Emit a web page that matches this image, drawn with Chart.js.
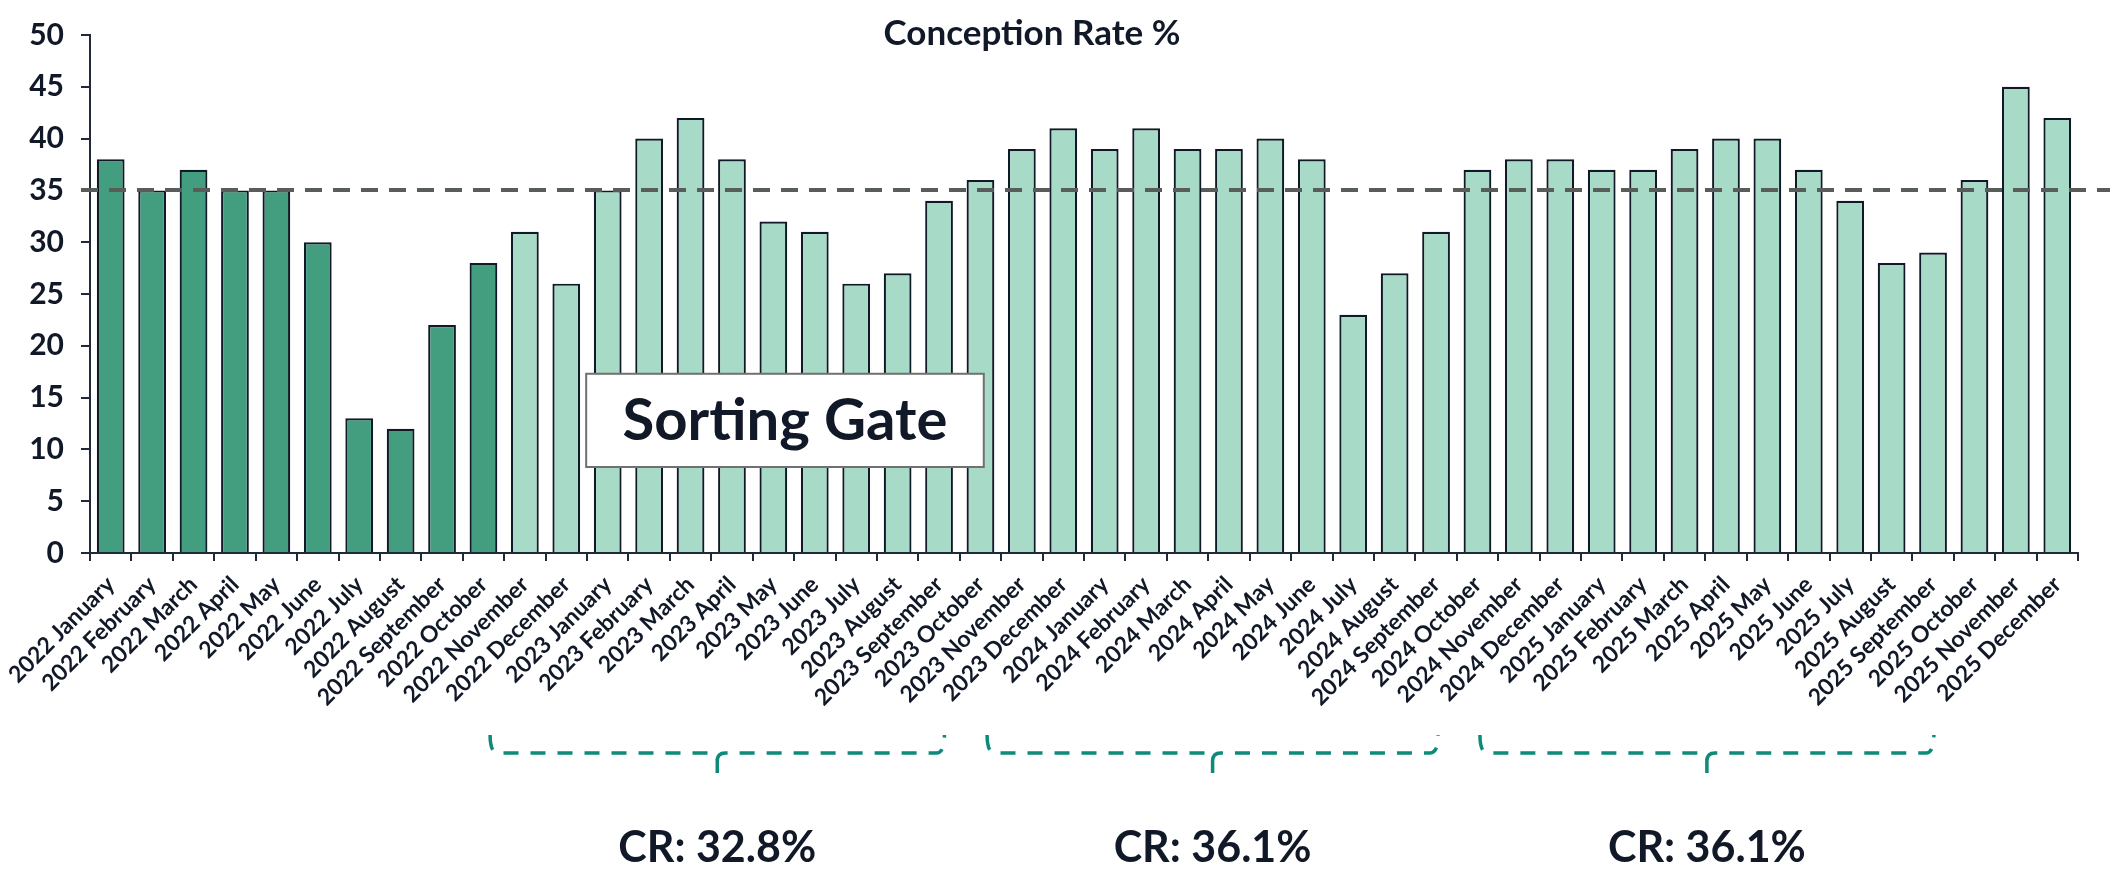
<!DOCTYPE html>
<html>
<head>
<meta charset="utf-8">
<script src="https://cdn.jsdelivr.net/npm/chart.js@4.4.1/dist/chart.umd.min.js"></script>
<style>
  html, body { margin: 0; padding: 0; background: #ffffff; }
  #wrap { width: 2112px; height: 873px; position: relative; }
</style>
</head>
<body>
<div id="wrap"><canvas id="c" width="2112" height="873"></canvas></div>
<script>
// ---------------- DATA ----------------
const categories = [
  '2022 January','2022 February','2022 March','2022 April','2022 May','2022 June',
  '2022 July','2022 August','2022 September','2022 October','2022 November','2022 December',
  '2023 January','2023 February','2023 March','2023 April','2023 May','2023 June',
  '2023 July','2023 August','2023 September','2023 October','2023 November','2023 December',
  '2024 January','2024 February','2024 March','2024 April','2024 May','2024 June',
  '2024 July','2024 August','2024 September','2024 October','2024 November','2024 December',
  '2025 January','2025 February','2025 March','2025 April','2025 May','2025 June',
  '2025 July','2025 August','2025 September','2025 October','2025 November','2025 December'
];
const conceptionRate = [
  38, 35, 37, 35, 35, 30, 13, 12, 22, 28, 31, 26,
  35, 40, 42, 38, 32, 31, 26, 27, 34, 36, 39, 41,
  39, 41, 39, 39, 40, 38, 23, 27, 31, 37, 38, 38,
  37, 37, 39, 40, 40, 37, 34, 28, 29, 36, 45, 42
];
const monthsBeforeGate = 10;          // bars drawn in the darker green
const targetRate = 35;                // dashed reference line
const yTickMin = 0, yTickMax = 50, yTickStep = 5;
const chartTitle = 'Conception Rate %';
const gateLabel = 'Sorting Gate';
const periodLabels = ['CR: 32.8%', 'CR: 36.1%', 'CR: 36.1%'];

// ---------------- STYLE ----------------
const FONT = 'Lato, "Open Sans", sans-serif';
const TEXT = '#111827';
const DARK = '#439e80';
const LIGHT = '#a7dbc8';
const EDGE = '#111827';
const TEAL = '#0e8a7a';

const barColors = conceptionRate.map((v, i) => i < monthsBeforeGate ? DARK : LIGHT);

// annotation geometry in category-boundary units / value units
const gateBox = { from: 11.98, to: 21.58, top: 17.3, bottom: 8.3 };
const braceSpans = [[9.66, 20.63], [21.66, 32.55], [33.56, 44.52]];

const overlay = {
  id: 'overlay',
  afterDatasetsDraw(chart) {
    const { ctx, chartArea: ca, scales: { y } } = chart;
    const unit = (ca.right - ca.left) / categories.length;
    const bx = k => ca.left + k * unit;

    // target dashed line
    ctx.save();
    const yy = Math.round(y.getPixelForValue(targetRate));
    ctx.strokeStyle = '#595d5a';
    ctx.lineWidth = 4;
    ctx.setLineDash([17, 11]);
    ctx.beginPath();
    ctx.moveTo(ca.left - 9, yy);
    ctx.lineTo(chart.width - 2, yy);
    ctx.stroke();
    ctx.restore();

    // Sorting Gate box
    ctx.save();
    const x0 = bx(gateBox.from), x1 = bx(gateBox.to);
    const y0 = y.getPixelForValue(gateBox.top), y1 = y.getPixelForValue(gateBox.bottom);
    ctx.fillStyle = '#ffffff';
    ctx.fillRect(x0, y0, x1 - x0, y1 - y0);
    ctx.strokeStyle = '#707070';
    ctx.lineWidth = 2;
    ctx.strokeRect(x0, y0, x1 - x0, y1 - y0);
    ctx.fillStyle = TEXT;
    ctx.font = 'bold 58px ' + FONT;
    ctx.textAlign = 'center';
    ctx.textBaseline = 'alphabetic';
    ctx.fillText(gateLabel, (x0 + x1) / 2, y0 + (y1 - y0) / 2 + 20);
    ctx.restore();
  },
  afterDraw(chart) {
    const { ctx, chartArea: ca } = chart;
    const unit = (ca.right - ca.left) / categories.length;
    const bx = k => ca.left + k * unit;

    // title
    ctx.save();
    ctx.fillStyle = TEXT;
    ctx.font = 'bold 35px ' + FONT;
    ctx.textAlign = 'center';
    ctx.textBaseline = 'alphabetic';
    ctx.fillText(chartTitle, 1032, 45);
    ctx.restore();

    // braces + period labels
    const yLine = 753, tipTop = 735, notch = 773, r = 8;
    braceSpans.forEach((span, i) => {
      const a = bx(span[0]), b = bx(span[1]), m = (a + b) / 2;
      ctx.save();
      ctx.strokeStyle = TEAL;
      ctx.lineWidth = 3.5;
      ctx.setLineDash([15, 12]);
      ctx.beginPath();
      ctx.moveTo(a, tipTop);
      ctx.quadraticCurveTo(a, yLine, a + r, yLine);
      ctx.lineTo(m - r, yLine);
      ctx.quadraticCurveTo(m, yLine, m, yLine + r);
      ctx.lineTo(m, notch);
      ctx.moveTo(m, yLine + r);
      ctx.quadraticCurveTo(m, yLine, m + r, yLine);
      ctx.lineTo(b - r, yLine);
      ctx.quadraticCurveTo(b, yLine, b, tipTop);
      ctx.stroke();
      ctx.restore();

      ctx.save();
      ctx.fillStyle = TEXT;
      ctx.font = 'bold 43px ' + FONT;
      ctx.textAlign = 'center';
      ctx.textBaseline = 'alphabetic';
      ctx.fillText(periodLabels[i], m, 862);
      ctx.restore();
    });
  }
};

function build() {
  new Chart(document.getElementById('c'), {
    type: 'bar',
    data: {
      labels: categories,
      datasets: [{
        data: conceptionRate,
        backgroundColor: barColors,
        borderColor: EDGE,
        borderWidth: 2.2,
        borderSkipped: 'bottom',
        barPercentage: 0.67,
        categoryPercentage: 1.0
      }]
    },
    options: {
      responsive: false,
      animation: false,
      devicePixelRatio: 1,
      layout: { padding: { top: 21, right: 34, left: 0, bottom: 0 } },
      plugins: { legend: { display: false }, title: { display: false }, tooltip: { enabled: false } },
      scales: {
        x: {
          afterFit(scale) { scale.height = 320; },
          grid: { display: true, offset: true, drawOnChartArea: false, drawTicks: true, tickLength: 8, color: '#1f2937', lineWidth: 2 },
          border: { display: true, color: '#1f2937', width: 2 },
          ticks: {
            autoSkip: false, minRotation: 45, maxRotation: 45, padding: 10,
            color: TEXT, font: { family: FONT, size: 23, weight: 'bold' }
          }
        },
        y: {
          min: yTickMin, max: yTickMax,
          afterFit(scale) { scale.width = 90; },
          grid: { display: true, drawOnChartArea: false, drawTicks: true, tickLength: 9, color: '#1f2937', lineWidth: 2 },
          border: { display: true, color: '#1f2937', width: 2 },
          ticks: {
            stepSize: yTickStep, padding: 17,
            color: TEXT, font: { family: FONT, size: 30, weight: 'bold' }
          }
        }
      }
    },
    plugins: [overlay]
  });
}

Promise.all([
  document.fonts.load('bold 22px Lato'),
  document.fonts.load('bold 56px Lato')
]).then(build, build);
</script>
</body>
</html>
